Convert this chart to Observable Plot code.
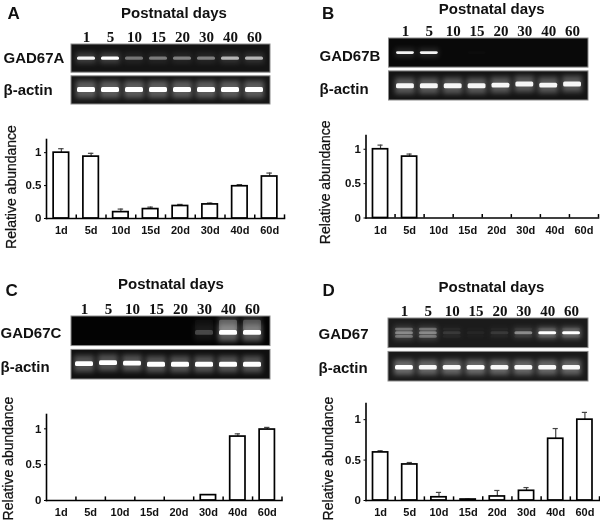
<!DOCTYPE html>
<html>
<head>
<meta charset="utf-8">
<script src="https://cdn.jsdelivr.net/npm/d3@7"></script>
<script src="https://cdn.jsdelivr.net/npm/@observablehq/plot@0.6"></script>
<style>
  html, body { margin: 0; padding: 0; background: #fff; }
  #figure { position: relative; width: 600px; height: 523px; overflow: hidden; filter: blur(0.4px); }
  #figure svg { position: absolute; background: transparent; overflow: visible; }
</style>
</head>
<body>
<div id="figure"></div>
<script>
// ---- shared categories ----
const lanes = ["1", "5", "10", "15", "20", "30", "40", "60"];
const days = ["1d", "5d", "10d", "15d", "20d", "30d", "40d", "60d"];
const yTicks = [0, 0.5, 1];

// ---- relative abundance (bar height, upper error) ----
const valuesA = [1, 0.94, 0.097, 0.143, 0.19, 0.214, 0.49, 0.638];
const errorsA = [0.06, 0.05, 0.046, 0.03, 0.024, 0.021, 0.025, 0.052];
const valuesB = [1, 0.893, 0, 0, 0, 0, 0, 0];
const errorsB = [0.06, 0.037, 0, 0, 0, 0, 0, 0];
const valuesC = [0, 0, 0, 0, 0, 0.075, 0.892, 0.99];
const errorsC = [0, 0, 0, 0, 0, 0.005, 0.038, 0.03];
const valuesD = [0.595, 0.446, 0.04, 0.012, 0.05, 0.12, 0.764, 1];
const errorsD = [0.021, 0.024, 0.06, 0.004, 0.074, 0.04, 0.126, 0.09];

// ---- gel band brightness per lane (0-1) ----
const gelA = [0.95, 1, 0.38, 0.4, 0.42, 0.42, 0.65, 0.65];
const gelB = [0.95, 0.95, 0, 0.015, 0, 0, 0, 0];
const gelC = [0, 0, 0, 0, 0, 0.22, 1, 1];
const gelCSmear = [0, 0, 0, 0, 0, 0.03, 0.26, 0.22];
const gelDUpper = [0.28, 0.28, 0.03, 0.01, 0.02, 0.04, 0.06, 0.06];
const gelDMiddle = [0.36, 0.36, 0.1, 0.04, 0.1, 0.42, 1, 1];
const gelDLower = [0.3, 0.3, 0.03, 0.01, 0.02, 0.04, 0.06, 0.06];
const actinA = [1, 1, 1, 1, 1, 1, 1, 1];
const actinB = [0.95, 0.95, 0.95, 0.95, 0.95, 0.95, 0.95, 0.95];
const actinC = [1, 1, 1, 1, 1, 1, 1, 1];
const actinD = [1, 0.95, 0.95, 1, 0.95, 0.95, 0.95, 0.95];
// migration distance of each band within its gel strip
const actinPosB = [14.3, 14.3, 14.3, 14.3, 13.6, 12.6, 13.6, 12.6];
const actinPosC = [13.5, 12.5, 13, 14, 14, 14, 14, 14];

const sans = "Liberation Sans, Arial, sans-serif";
const serif = "Liberation Serif, Times New Roman, serif";
const figure = document.getElementById("figure");

function place(svg, left, top) {
  svg.style.left = left + "px";
  svg.style.top = top + "px";
  figure.appendChild(svg);
}

function gel(cfg) {
  const rows = [cfg.name, "β-actin"];
  const bands = cfg.tracks.flatMap(t =>
    lanes.map((lane, i) => ({
      lane, row: t.row, v: t.values[i],
      pos: Array.isArray(t.pos) ? t.pos[i] : t.pos,
      thick: t.thick, glow: t.glow
    }))
  ).filter(d => d.v > 0);
  const backgrounds = rows.map((row, i) => ({ row, bg: cfg.bg[i] }));
  const plot = Plot.plot({
    width: cfg.width, height: cfg.height,
    marginLeft: cfg.ml, marginRight: cfg.width - cfg.frameRight, marginTop: cfg.mt, marginBottom: 0,
    x: { domain: lanes, range: cfg.range, padding: 0, round: false, axis: null },
    y: { domain: [28, 0], axis: null },
    fy: { domain: rows, paddingInner: 0.115, paddingOuter: 0, round: false, axis: null },
    opacity: { domain: [0, 1], range: [0, 1] },
    marks: [
      Plot.rect(backgrounds, { fy: "row", fill: "bg", stroke: "#8a8a8a", strokeWidth: 1 }),
      Plot.barY(bands, {
        x: "lane", fy: "row", fill: "white", fillOpacity: d => d.v * d.glow,
        y1: d => d.pos - d.thick * 1.7, y2: d => d.pos + d.thick * 1.7,
        insetLeft: 2, insetRight: 2, imageFilter: "blur(2.4px)", clip: "frame"
      }),
      Plot.barY(bands, {
        x: "lane", fy: "row", fill: "white", fillOpacity: "v",
        y1: d => d.pos - d.thick / 2, y2: d => d.pos + d.thick / 2,
        insetLeft: 3, insetRight: 3, rx: 1.5, imageFilter: "blur(0.7px)", clip: "frame"
      }),
      Plot.axisX({
        anchor: "top", label: null, tickSize: 0, tickPadding: 3,
        fontFamily: serif, fontWeight: "bold", fontSize: 15, fill: "#111"
      }),
      Plot.axisFy({
        anchor: "left", label: null, tickSize: 0, tickPadding: 0, textAnchor: "start",
        dx: cfg.labelX - cfg.ml, dy: cfg.labelDy,
        fontFamily: sans, fontWeight: "bold", fontSize: 15, fill: "#111"
      }),
      Plot.text([cfg.letter], {
        fy: () => cfg.name, frameAnchor: "top-left", lineAnchor: "middle", textAnchor: "start",
        dx: cfg.letterDx, dy: cfg.letterDy,
        fontFamily: sans, fontWeight: "bold", fontSize: 17, fill: "#111"
      }),
      Plot.text(["Postnatal days"], {
        fy: () => cfg.name, frameAnchor: "top", lineAnchor: "middle",
        dx: cfg.titleDx, dy: cfg.titleDy,
        fontFamily: sans, fontWeight: "bold", fontSize: 15, fill: "#111"
      })
    ]
  });
  place(plot, cfg.left, cfg.top);
}

function bars(cfg) {
  const table = days.map((day, i) => ({ day, v: cfg.values[i], e: cfg.errors[i] })).filter(d => d.v > 0);
  const step = (cfg.width - cfg.ml - cfg.mr) / days.length;
  const top = 1.2;
  const plot = Plot.plot({
    width: cfg.width, height: cfg.height,
    marginLeft: cfg.ml, marginRight: cfg.mr, marginTop: cfg.mt, marginBottom: cfg.mb,
    x: { domain: days, paddingInner: 0.48, paddingOuter: 0.24, round: false, axis: null },
    y: { domain: [0, top], axis: null },
    marks: [
      Plot.ruleX(table, { x: "day", y1: "v", y2: d => d.v + d.e, stroke: "#444", strokeWidth: 1.2 }),
      Plot.tickY(table, { x: "day", y: d => d.v + d.e, stroke: "#444", strokeWidth: 1.2, insetLeft: 5, insetRight: 5 }),
      Plot.barY(table, { x: "day", y: "v", fill: "white", stroke: "black", strokeWidth: 1.7 }),
      Plot.ruleX(days, { x: d => d, dx: step / 2, y1: 0, y2: cfg.tick, stroke: "black", strokeWidth: 1.5 }),
      Plot.frame({ anchor: "left", stroke: "black", strokeWidth: 1.6 }),
      Plot.frame({ anchor: "bottom", stroke: "black", strokeWidth: 1.6 }),
      Plot.axisX({
        anchor: "bottom", label: null, tickSize: 0, tickPadding: 8,
        fontFamily: sans, fontWeight: "bold", fontSize: 11, fill: "#111"
      }),
      Plot.axisY({
        anchor: "left", label: null, ticks: yTicks, tickFormat: d => String(d), tickSize: 2, tickPadding: 3,
        fontFamily: sans, fontWeight: "bold", fontSize: 11.5, fill: "#111", stroke: "black"
      }),
      Plot.text(["Relative abundance"], {
        frameAnchor: "left", rotate: -90, lineAnchor: "middle", textAnchor: "middle",
        dx: cfg.labelDx, dy: cfg.labelDy,
        fontFamily: sans, fontSize: 14, fontWeight: 400, fill: "#111", stroke: "#111", strokeWidth: 0.25
      })
    ]
  });
  place(plot, cfg.left, cfg.top);
}

// ---- panel A ----
gel({
  name: "GAD67A", letter: "A", left: 0, top: 0, width: 275, height: 104, ml: 71, frameRight: 270, mt: 44,
  range: [74, 266], bg: ["#141414", "#161616"], labelX: 3, labelDy: 0,
  letterDx: -64, letterDy: -31, titleDx: 3, titleDy: -31,
  tracks: [
    { row: "GAD67A", pos: 14, thick: 3.2, glow: 0.18, values: gelA },
    { row: "β-actin", pos: 13.5, thick: 5, glow: 0.3, values: actinA }
  ]
});
bars({
  left: 0, top: 115, width: 284, height: 125, ml: 46, mr: 0, mt: 24, mb: 22,
  tick: 0.055, labelDx: -35, labelDy: 8, values: valuesA, errors: errorsA
});

// ---- panel B ----
gel({
  name: "GAD67B", letter: "B", left: 300, top: 0, width: 292, height: 100, ml: 88.5, frameRight: 288, mt: 38,
  range: [93, 284], bg: ["#090909", "#141414"], labelX: 19, labelDy: 3,
  letterDx: -67, letterDy: -25, titleDx: 3, titleDy: -29.5,
  tracks: [
    { row: "GAD67B", pos: 14, thick: 2.6, glow: 0.12, values: gelB },
    { row: "β-actin", pos: actinPosB, thick: 4.6, glow: 0.3, values: actinB }
  ]
});
bars({
  left: 300, top: 112, width: 298, height: 128, ml: 65.5, mr: 0, mt: 23, mb: 22.5,
  tick: 0.05, labelDx: -40, labelDy: 5.5, values: valuesB, errors: errorsB
});

// ---- panel C ----
gel({
  name: "GAD67C", letter: "C", left: 0, top: 263, width: 275, height: 116, ml: 71, frameRight: 270, mt: 53,
  range: [72, 264], bg: ["#030303", "#101010"], labelX: 0, labelDy: 2,
  letterDx: -66, letterDy: -26, titleDx: 0, titleDy: -32,
  tracks: [
    { row: "GAD67C", pos: 8.5, thick: 10, glow: 0.6, values: gelCSmear },
    { row: "GAD67C", pos: 15.5, thick: 4.4, glow: 0.25, values: gelC },
    { row: "β-actin", pos: actinPosC, thick: 4.6, glow: 0.28, values: actinC }
  ]
});
bars({
  left: 0, top: 380, width: 281.5, height: 143, ml: 46, mr: 0, mt: 34, mb: 23,
  tick: 0.05, labelDx: -38, labelDy: 1, values: valuesC, errors: errorsC
});

// ---- panel D ----
gel({
  name: "GAD67", letter: "D", left: 300, top: 263, width: 292, height: 118, ml: 88, frameRight: 288, mt: 55,
  range: [92, 283], bg: ["#1b1b1b", "#1a1a1a"], labelX: 18, labelDy: 1,
  letterDx: -66, letterDy: -28, titleDx: 3, titleDy: -31,
  tracks: [
    { row: "GAD67", pos: 10.5, thick: 2.6, glow: 0.3, values: gelDUpper },
    { row: "GAD67", pos: 14, thick: 3, glow: 0.3, values: gelDMiddle },
    { row: "GAD67", pos: 17.5, thick: 2.6, glow: 0.3, values: gelDLower },
    { row: "β-actin", pos: 15, thick: 4.2, glow: 0.35, values: actinD }
  ]
});
bars({
  left: 300, top: 383, width: 299, height: 140, ml: 65.5, mr: 0, mt: 20, mb: 23,
  tick: 0.045, labelDx: -37.5, labelDy: 6.5, values: valuesD, errors: errorsD
});
</script>
</body>
</html>
